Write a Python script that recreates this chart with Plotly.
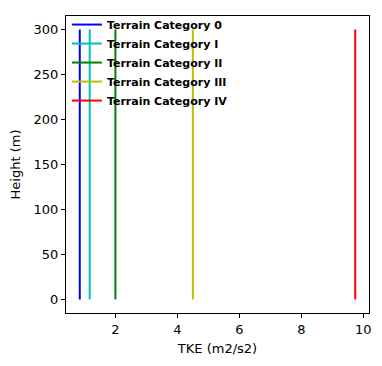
import plotly.graph_objects as go

categories = ["Terrain Category 0", "Terrain Category I", "Terrain Category II",
              "Terrain Category III", "Terrain Category IV"]
tke_values = [0.85, 1.17, 2.0, 4.5, 9.74]
heights = [0, 300]
colors = ["#0000ff", "#00bfbf", "#008000", "#bfbf00", "#ff0000"]

fig = go.Figure()
for name, v, c in zip(categories, tke_values, colors):
    fig.add_trace(go.Scatter(x=[v] * len(heights), y=heights, mode="lines",
                             name=name, line=dict(color=c, width=2)))

xmin, xmax = min(tke_values), max(tke_values)
xm = (xmax - xmin) * 0.05
ymin, ymax = min(heights), max(heights)
ym = (ymax - ymin) * 0.05

axis_common = dict(showline=True, linecolor="black", linewidth=1, mirror=True,
                   ticks="outside", ticklen=4, tickwidth=1, tickcolor="black",
                   showgrid=False, zeroline=False,
                   tickfont=dict(family="DejaVu Sans", size=13, color="black"),
                   title_font=dict(family="DejaVu Sans", size=13, color="black"))

# the page body adds an 8px margin, so the figure is sized to fit the window
fig.update_layout(
    width=374, height=358,
    margin=dict(l=58, r=13, t=2, b=53),
    paper_bgcolor="white", plot_bgcolor="white",
    xaxis=dict(range=[xmin - xm, xmax + xm], tickvals=[2, 4, 6, 8, 10],
               title=dict(text="TKE (m2/s2)", standoff=8), **axis_common),
    yaxis=dict(range=[ymin - ym, ymax + ym], tickvals=[0, 50, 100, 150, 200, 250, 300],
               title=dict(text="Height (m)", standoff=11), **axis_common),
    legend=dict(x=0.003, y=1.02, xanchor="left", yanchor="top",
                bgcolor="rgba(0,0,0,0)", itemwidth=30,
                font=dict(family="DejaVu Sans", size=11, color="black", weight="bold")),
    showlegend=True,
)

fig.write_html("out.html")
